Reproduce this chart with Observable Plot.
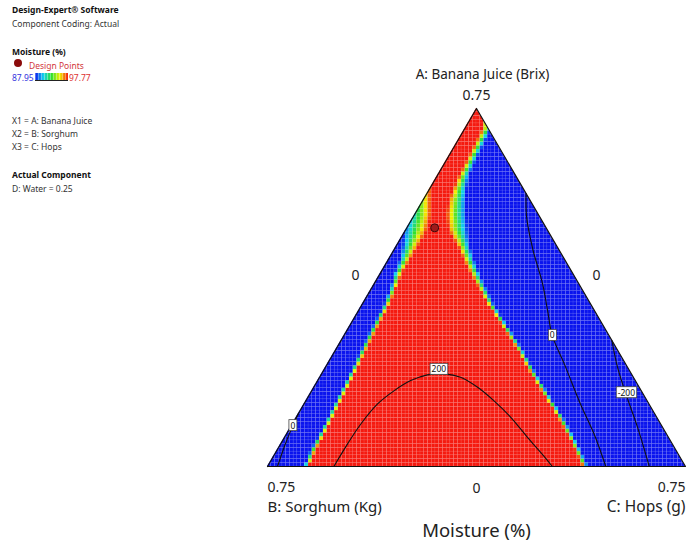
<!DOCTYPE html>
<html><head><meta charset="utf-8">
<script src="https://cdn.jsdelivr.net/npm/d3@7"></script>
<script src="https://cdn.jsdelivr.net/npm/@observablehq/plot@0.6"></script>
<style>
body{margin:0;background:#fff;}
#wrap{position:relative;width:686px;height:546px;overflow:hidden;font-family:"Noto Sans",sans-serif;}
#chart{position:absolute;left:0;top:0;}
.lg{position:absolute;left:12px;font-size:8.5px;color:#333;white-space:nowrap;line-height:10px;}
.b{font-weight:bold;color:#111;}
</style></head><body>
<div id="wrap">
<div id="chart"></div>
<div class="lg b" style="top:5px">Design-Expert® Software</div>
<div class="lg" style="top:19px">Component Coding: Actual</div>
<div class="lg b" style="top:47px">Moisture (%)</div>
<div class="lg" style="top:58px;left:14px"><span style="display:inline-block;width:8px;height:8px;border-radius:50%;background:#8b0b0b;vertical-align:top;margin-top:1px"></span></div>
<div class="lg" style="top:61px;left:29px;color:#d2363a">Design Points</div>
<div class="lg" style="top:73px;color:#3333dd">87.95</div>
<div style="position:absolute;left:35px;top:73px;width:33px;height:7px;border-bottom:1px solid #222;background:repeating-linear-gradient(90deg,rgba(255,255,255,0.35) 0 1px,transparent 1px 3px),linear-gradient(90deg,#0a14ee,#10d0f0,#30e030,#f0f000,#f51a10)"></div>
<div class="lg" style="top:73px;left:69px;color:#dd3333">97.77</div>
<div class="lg" style="top:116px">X1 = A: Banana Juice</div>
<div class="lg" style="top:129px">X2 = B: Sorghum</div>
<div class="lg" style="top:142px">X3 = C: Hops</div>
<div class="lg b" style="top:170px">Actual Component</div>
<div class="lg" style="top:184px">D: Water = 0.25</div>
</div>
<script>
// ---- data (component amounts; A + B + C = 0.75, D: Water = 0.25) ----
const total = 0.75;
const colorMin = 87.95, colorMax = 97.77;
const colorStops = ["#0a14ee", "#10d0f0", "#30e030", "#f0f000", "#f51a10"];

// triangle vertices: B (bottom-left), A (top), C (bottom-right)
const vertexA = [0, 0.75, 0];
const vertexC = [0, 0, 0.75];

// axis texts
const titleA = "A: Banana Juice (Brix)";
const titleB = "B: Sorghum (Kg)";
const titleC = "C: Hops (g)";
const chartTitle = "Moisture (%)";
const vertexTick = "0.75";
const edgeTick = "0";

// design points
const designA = [0.50];
const designC = [0.05];

// red (high) region: left boundary (A, C, transition half-width)
const leftA = [0, 0.034, 0.069, 0.111, 0.153, 0.195, 0.228, 0.264, 0.306, 0.333, 0.369, 0.404, 0.432, 0.463, 0.494, 0.526];
const leftC = [0.071, 0.066, 0.065, 0.062, 0.059, 0.056, 0.053, 0.050, 0.047, 0.046, 0.041, 0.033, 0.031, 0.026, 0.019, 0.010];
const leftHalf = [0.0045, 0.0045, 0.0045, 0.0045, 0.0045, 0.0045, 0.0045, 0.0045, 0.0045, 0.0045, 0.005, 0.007, 0.009, 0.015, 0.022, 0.022];
// right boundary
const rightA = [0, 0.054, 0.103, 0.145, 0.195, 0.243, 0.285, 0.341, 0.390, 0.427, 0.463, 0.494, 0.526, 0.557, 0.584, 0.610, 0.633, 0.658, 0.683, 0.708];
const rightC = [0.571, 0.522, 0.475, 0.431, 0.380, 0.333, 0.289, 0.230, 0.184, 0.151, 0.121, 0.096, 0.077, 0.063, 0.055, 0.049, 0.047, 0.045, 0.043, 0.041];
const rightHalf = [0.0045, 0.0045, 0.0045, 0.0045, 0.0045, 0.0045, 0.0045, 0.005, 0.007, 0.009, 0.011, 0.018, 0.018, 0.016, 0.012, 0.009, 0.008, 0.008, 0.008, 0.008];

// contour lines (A, C)
const c200A = [0, 0.048, 0.089, 0.131, 0.159, 0.180, 0.192, 0.194, 0.187, 0.166, 0.138, 0.103, 0.061, 0.020, 0];
const c200C = [0.119, 0.120, 0.123, 0.132, 0.148, 0.167, 0.191, 0.220, 0.253, 0.294, 0.337, 0.385, 0.436, 0.487, 0.511];
const c0rA = [0.572, 0.522, 0.453, 0.383, 0.327, 0.274, 0.215, 0.131, 0.068, 0];
const c0rC = [0.178, 0.204, 0.250, 0.302, 0.339, 0.374, 0.425, 0.496, 0.552, 0.607];
const cm200A = [0.264, 0.208, 0.152, 0.082, 0];
const cm200C = [0.486, 0.524, 0.567, 0.623, 0.685];
const c0lA = [0, 0.044, 0.084, 0.111];
const c0lC = [0.018, 0.009, 0.003, 0];
const contourLabelText = ["200", "0", "-200", "0"];
const contourLabelA = [0.203, 0.274, 0.154, 0.085];
const contourLabelC = [0.206, 0.374, 0.567, 0.003];

// ---- helpers ----
const toX = (A, C) => C / total + (A / total) / 2;
const toY = A => A / total;
const pts = (As, Cs) => As.map((a, i) => ({x: toX(a, Cs[i]), y: toY(a)}));

function boundaryAt(As, Cs, Hs, y) {
  const P = As.map((a, i) => ({y: toY(a), x: toX(a, Cs[i]), h: Hs[i] / total}));
  if (y <= P[0].y) return P[0];
  for (let i = 1; i < P.length; i++) {
    if (y <= P[i].y) {
      const t = (y - P[i-1].y) / (P[i].y - P[i-1].y);
      return {x: P[i-1].x + t * (P[i].x - P[i-1].x), h: P[i-1].h + t * (P[i].h - P[i-1].h)};
    }
  }
  return P[P.length - 1];
}
const clamp = v => Math.max(0, Math.min(1, v));

const nx = 112, ny = 96;
const cells = [];
for (let j = 0; j < ny; j++) {
  const y1 = j / ny, y2 = (j + 1) / ny, yc = (y1 + y2) / 2;
  const L = boundaryAt(leftA, leftC, leftHalf, yc);
  const R = boundaryAt(rightA, rightC, rightHalf, yc);
  for (let i = 0; i < nx; i++) {
    const x1 = i / nx, x2 = (i + 1) / nx, xc = (x1 + x2) / 2;
    if (x2 < y1 / 2 || x1 > 1 - y1 / 2) continue;
    const tL = clamp(0.5 + (xc - L.x) / (2 * L.h));
    const tR = clamp(0.5 + (R.x - xc) / (2 * R.h));
    const t = Math.min(tL, tR);
    cells.push({x1, x2, y1, y2, v: colorMin + t * (colorMax - colorMin)});
  }
}

const tri = [0, 1, 2, 0].map(k => ({x: toX(vertexA[k], vertexC[k]), y: toY(vertexA[k])}));
const leftMask = [tri[0], tri[1]];
const rightMask = [tri[1], tri[2]];
const labels = contourLabelText.map((s, i) => ({s, x: toX(contourLabelA[i], contourLabelC[i]), y: toY(contourLabelA[i])}));
const design = designA.map((a, i) => ({x: toX(a, designC[i]), y: toY(a)}));

const font = '"Noto Sans", sans-serif';
const txt = "#222";
const svg = Plot.plot({
  width: 686, height: 546,
  marginLeft: 267, marginRight: 1, marginTop: 108, marginBottom: 80,
  style: {fontFamily: font, background: "white", overflow: "visible"},
  x: {domain: [0, 1], axis: null},
  y: {domain: [0, 1], axis: null},
  color: {type: "linear", domain: [colorMin, colorMax], interpolate: d3.piecewise(d3.interpolateRgb, colorStops)},
  marks: [
    Plot.rect(cells, {x1: "x1", x2: "x2", y1: "y1", y2: "y2", fill: "v", stroke: "white", strokeOpacity: 0.13, strokeWidth: 0.5}),
    Plot.areaY(leftMask, {x: "x", y1: "y", y2: 1.02, fill: "white"}),
    Plot.areaY(rightMask, {x: "x", y1: "y", y2: 1.02, fill: "white"}),
    Plot.line(pts(c200A, c200C), {x: "x", y: "y", stroke: "#111", strokeWidth: 1.1, curve: "catmull-rom"}),
    Plot.line(pts(c0rA, c0rC), {x: "x", y: "y", stroke: "#111", strokeWidth: 1.1, curve: "catmull-rom"}),
    Plot.line(pts(cm200A, cm200C), {x: "x", y: "y", stroke: "#111", strokeWidth: 1.1, curve: "catmull-rom"}),
    Plot.line(pts(c0lA, c0lC), {x: "x", y: "y", stroke: "#111", strokeWidth: 1.1, curve: "catmull-rom"}),
    Plot.line(tri, {x: "x", y: "y", stroke: "#111", strokeWidth: 1.2}),
    Plot.dot(design, {x: "x", y: "y", r: 4, fill: "#9e1b1b", stroke: "#3a0a0a", strokeWidth: 1}),
    Plot.text(labels, {x: "x", y: "y", text: "s", fontSize: 8.5, fill: "#111", ariaLabel: "contour labels"}),
    // axis texts
    Plot.text([tri[1]], {x: "x", y: "y", text: () => vertexTick, dy: -13, fontSize: 14, fill: txt}),
    Plot.text([tri[1]], {x: "x", y: "y", text: () => titleA, dy: -34, dx: 6, fontSize: 13.5, fill: txt}),
    Plot.text([tri[0]], {x: "x", y: "y", text: () => vertexTick, dy: 21, textAnchor: "start", fontSize: 14, fill: txt}),
    Plot.text([tri[0]], {x: "x", y: "y", text: () => titleB, dy: 41, textAnchor: "start", fontSize: 15, fill: txt}),
    Plot.text([tri[2]], {x: "x", y: "y", text: () => vertexTick, dy: 21, textAnchor: "end", fontSize: 14, fill: txt}),
    Plot.text([tri[2]], {x: "x", y: "y", text: () => titleC, dy: 41, textAnchor: "end", fontSize: 15.5, fill: txt}),
    Plot.text([{x: (tri[0].x + tri[2].x) / 2, y: tri[0].y}], {x: "x", y: "y", text: () => edgeTick, dy: 22, fontSize: 14, fill: txt}),
    Plot.text([{x: (tri[0].x + tri[2].x) / 2, y: tri[0].y}], {x: "x", y: "y", text: () => chartTitle, dy: 65, fontSize: 18.5, fill: txt}),
    Plot.text([{x: (tri[0].x + tri[1].x) / 2, y: (tri[0].y + tri[1].y) / 2}], {x: "x", y: "y", text: () => edgeTick, dx: -16.5, dy: -12, fontSize: 14, fill: txt}),
    Plot.text([{x: (tri[1].x + tri[2].x) / 2, y: (tri[1].y + tri[2].y) / 2}], {x: "x", y: "y", text: () => edgeTick, dx: 15.5, dy: -12, fontSize: 14, fill: txt})
  ]
});
document.getElementById("chart").append(svg);

// white boxes behind the contour labels
const labelSet = new Set(contourLabelText);
let labelNodes = Array.from(svg.querySelectorAll('g[aria-label="contour labels"] text'));
if (!labelNodes.length) {
  labelNodes = Array.from(svg.querySelectorAll("text")).filter(t => {
    const fs = t.closest("g") && t.closest("g").getAttribute("font-size");
    return labelSet.has(t.textContent) && (fs === "8.5" || fs === "8.5px");
  });
}
labelNodes.forEach(node => {
  let bb;
  try { bb = node.getBBox(); } catch (e) { bb = null; }
  if (!bb || !bb.width) {
    const n = node.textContent.length;
    bb = {x: -n * 2.5, y: -5, width: n * 5, height: 10};
  }
  const r = document.createElementNS("http://www.w3.org/2000/svg", "rect");
  r.setAttribute("x", bb.x - 1.5);
  r.setAttribute("y", bb.y);
  r.setAttribute("width", bb.width + 3);
  r.setAttribute("height", bb.height);
  r.setAttribute("fill", "white");
  r.setAttribute("stroke", "#444");
  r.setAttribute("stroke-width", "0.8");
  const tr = node.getAttribute("transform");
  if (tr) r.setAttribute("transform", tr);
  node.parentNode.insertBefore(r, node);
});
</script>
</body></html>
